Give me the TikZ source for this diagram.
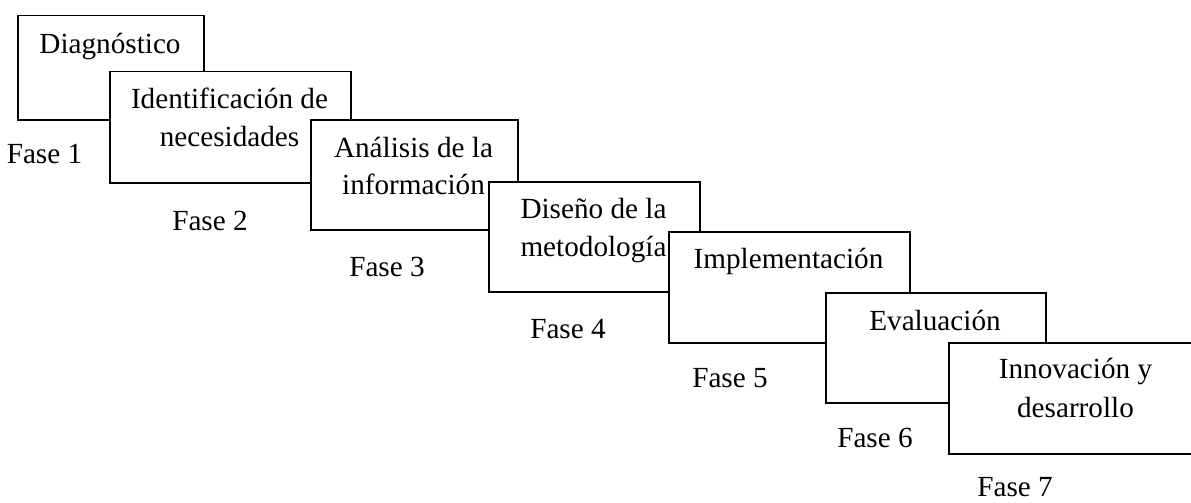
\documentclass[tikz,border=0pt]{standalone}
\usepackage{fontspec}
\setmainfont{Liberation Serif}
\begin{document}
\begin{tikzpicture}[x=1pt,y=-1pt,
  phasebox/.style={draw=black,fill=white,line width=1.5pt,inner sep=0pt,anchor=north west},
  txt/.style={anchor=base,inner sep=0pt,font=\fontsize{29.2}{38}\selectfont},
  fase/.style={anchor=base,inner sep=0pt,font=\fontsize{29.2}{38}\selectfont}]
\clip (0,0) rectangle (1191,503);
\useasboundingbox (0,0) rectangle (1191,503);
% Box 1
\node[phasebox,minimum width=186pt,minimum height=104pt] (b1) at (17,15) {};
\node[txt] (t1) at (110,53) {Diagnóstico};
\node[fase] (f1) at (44.5,163) {Fase 1};
% Box 2
\node[phasebox,minimum width=241pt,minimum height=111pt] (b2) at (109,71) {};
\node[txt] (t2a) at (229.5,108) {Identificación de};
\node[txt] (t2b) at (229.5,146) {necesidades};
\node[fase] (f2) at (210,230) {Fase 2};
% Box 3
\node[phasebox,minimum width=207pt,minimum height=110pt] (b3) at (310,119) {};
\node[txt] (t3a) at (413.5,157) {Análisis de la};
\node[txt] (t3b) at (413.5,194) {información};
\node[fase] (f3) at (387,276) {Fase 3};
% Box 4
\node[phasebox,minimum width=211pt,minimum height=110pt] (b4) at (488,181) {};
\node[txt] (t4a) at (593.5,218) {Diseño de la};
\node[txt] (t4b) at (593.5,256) {metodología};
\node[fase] (f4) at (568,338) {Fase 4};
% Box 5
\node[phasebox,minimum width=241pt,minimum height=111pt] (b5) at (668,231) {};
\node[txt] (t5) at (788.5,268) {Implementación};
\node[fase] (f5) at (730,387) {Fase 5};
% Box 6
\node[phasebox,minimum width=220pt,minimum height=110pt] (b6) at (825,292) {};
\node[txt] (t6) at (935,330) {Evaluación};
\node[fase] (f6) at (875,447) {Fase 6};
% Box 7
\node[phasebox,minimum width=255pt,minimum height=111pt] (b7) at (948,342) {};
\node[txt] (t7a) at (1075.5,378) {Innovación y};
\node[txt] (t7b) at (1075.5,417) {desarrollo};
\node[fase] (f7) at (1015,496) {Fase 7};
\end{tikzpicture}
\end{document}
